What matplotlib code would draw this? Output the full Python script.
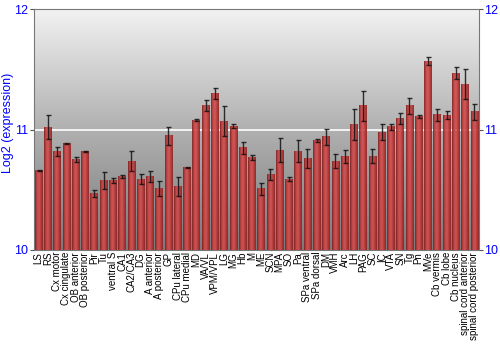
import numpy as np
import matplotlib
matplotlib.use("Agg")
import matplotlib.pyplot as plt
from matplotlib.colors import LinearSegmentedColormap

categories = ["LS", "RS", "Cx motor", "Cx cingulate", "OB anterior", "OB posterior", "Pir", "Tu",
              "ventral S", "CA1", "CA2/CA3", "DG", "A anterior", "A posterior", "GP", "CPu lateral",
              "CPu medial", "MD", "VA/VL", "VPM/VPL", "LG", "MG", "Hb", "M", "ME", "SCN", "MPA", "SO",
              "Pa", "SPa ventral", "SPa dorsal", "DM", "VMH", "Arc", "LH", "PAG", "SC", "IC", "VTA",
              "SN", "Tg", "Pn", "MVe", "Cb vermis", "Cb lobe", "Cb nucleus",
              "spinal cord anterior", "spinal cord posterior"]
values = [10.66, 11.02, 10.82, 10.886, 10.75, 10.82, 10.47, 10.58,
          10.575, 10.61, 10.74, 10.59, 10.61, 10.51, 10.95, 10.53,
          10.686, 11.08, 11.20, 11.30, 11.07, 11.03, 10.85, 10.77, 10.51, 10.625, 10.83, 10.59,
          10.82, 10.76, 10.91, 10.94, 10.74, 10.78, 11.04, 11.20, 10.78, 10.98, 11.025,
          11.09, 11.20, 11.11, 11.57, 11.125, 11.12, 11.47,
          11.38, 11.15]
errors = [0.005, 0.10, 0.036, 0.005, 0.02, 0.005, 0.03, 0.07,
          0.02, 0.01, 0.08, 0.045, 0.045, 0.06, 0.075, 0.078,
          0.005, 0.005, 0.045, 0.047, 0.125, 0.02, 0.05, 0.02, 0.05, 0.045, 0.10, 0.02,
          0.09, 0.08, 0.013, 0.065, 0.055, 0.055, 0.13, 0.125, 0.057, 0.07, 0.024,
          0.045, 0.067, 0.01, 0.036, 0.05, 0.032, 0.05,
          0.126, 0.067]
yticks = [10, 11, 12]
ylabel = "Log2 (expression)"

plt.rcParams['font.family'] = ['Liberation Sans', 'DejaVu Sans']

fig = plt.figure(figsize=(5, 3.5), dpi=100)
ax = fig.add_axes([0.068, 0.286, 0.89, 0.687])

x = np.arange(len(categories))
ax.set_xlim(-0.5, len(categories) - 0.5)
ax.set_ylim(10, 12)

# background vertical gradient
bg = LinearSegmentedColormap.from_list("bg", ["#7a7a7a", "#b0b0b0", "#f2f2f2"])
grad = np.linspace(0, 1, 256).reshape(-1, 1)
ax.imshow(grad, cmap=bg, aspect="auto", extent=[0, 1, 0, 1], transform=ax.transAxes,
          origin="lower", zorder=0, interpolation="bicubic")

ax.axhline(11, color="white", lw=1.2, zorder=1)

bars = ax.bar(x, [v - 10 for v in values], bottom=10, width=0.82, color="none",
              edgecolor="none", zorder=2)
barcm = LinearSegmentedColormap.from_list("bar", ["#7a1c1c", "#c84040", "#d45252", "#b83434", "#8a2222"])
hgrad = np.linspace(0, 1, 64).reshape(1, -1)
for p in bars:
    x0, y0 = p.get_x(), p.get_y()
    w, h = p.get_width(), p.get_height()
    ax.imshow(hgrad, cmap=barcm, aspect="auto", extent=[x0, x0 + w, y0, y0 + h],
              origin="lower", zorder=2, alpha=0.92, interpolation="bilinear")
ax.set_xlim(-0.5, len(categories) - 0.5)
ax.set_ylim(10, 12)

ax.errorbar(x, values, yerr=errors, fmt="none", ecolor="#111111", elinewidth=1.0,
            capsize=1.8, capthick=1.0, zorder=3, alpha=0.85)

ax.set_xticks(x)
ax.set_xticklabels(categories, rotation=90, fontsize=7, color="black")
ax.tick_params(axis="x", length=0, pad=1.5)
ax.set_yticks(yticks)
ax.set_yticklabels([str(t) for t in yticks])
ax.tick_params(axis="y", which="both", left=True, right=True, labelleft=True, labelright=True,
               length=3, width=0.8, color="#555555", labelcolor="#0000ff", labelsize=9, pad=1)
ax.set_ylabel(ylabel, color="#0000ff", fontsize=9)
ax.yaxis.set_label_coords(-0.044, 0.53)
for s in ax.spines.values():
    s.set_color("#777777")
    s.set_linewidth(0.8)

fig.savefig("out.png", dpi=100)
